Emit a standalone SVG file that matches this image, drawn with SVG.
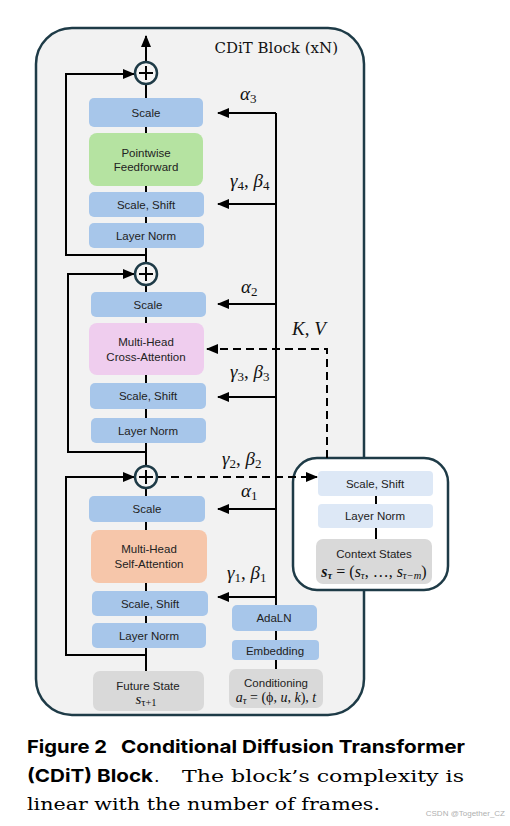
<svg xmlns="http://www.w3.org/2000/svg" width="510" height="826" viewBox="0 0 510 826">
<style>
.frame{fill:#f2f2f2;stroke:#1e3b47;stroke-width:2.5}
.ctx{fill:#ffffff;stroke:#1e3b47;stroke-width:2.5}
.blue{fill:#a7c6ea}
.lblue{fill:#dde8f6}
.green{fill:#b5e3a1}
.pink{fill:#efcdee}
.orange{fill:#f6c6aa}
.gray{fill:#d9d9d9}
.t{font-family:"Liberation Sans",Arial,sans-serif;font-size:11.5px;fill:#222;text-anchor:middle}
.m{font-family:"Liberation Serif","Times New Roman",serif;font-style:italic;font-size:19px;fill:#111}
.s{font-style:normal;font-size:13px}
.fm{font-family:"Liberation Serif","Times New Roman",serif;font-style:italic;font-size:15px;fill:#111;text-anchor:middle}
.up{font-style:normal}
.ss{font-size:10.5px}
.ln{fill:none;stroke:#000;stroke-width:2}
.dash{fill:none;stroke:#000;stroke-width:2;stroke-dasharray:8 5}
.pc{fill:#f5f5f5;stroke:#1e3b47;stroke-width:2.5}
.pl{stroke:#000;stroke-width:2}
.cap{font-family:Inter,"Liberation Sans",sans-serif;font-weight:bold;font-size:18px;fill:#000}
.ser{font-family:"DejaVu Serif",serif;font-size:17.5px;fill:#000}
</style>
<defs>
<marker id="ah" markerUnits="userSpaceOnUse" markerWidth="12" markerHeight="10" refX="11" refY="5" orient="auto">
<path d="M0,0 L12,5 L0,10 Z" fill="#000"/>
</marker>
</defs>

<g id="cdit-block">
<rect class="frame" x="36" y="28" width="328" height="687" rx="36"/>
<text x="338" y="53" text-anchor="end" style="font-family:'DejaVu Serif',serif;font-size:15px;fill:#111">CDiT Block (xN)</text>
</g>

<g id="context-block">
<rect class="ctx" x="293" y="458" width="155" height="132" rx="24"/>
<rect class="lblue" x="318" y="471" width="115" height="25" rx="4"/>
<text class="t" x="375" y="488">Scale, Shift</text>
<rect class="lblue" x="318" y="504" width="115" height="24" rx="4"/>
<text class="t" x="375" y="520">Layer Norm</text>
<rect class="gray" x="316" y="539" width="116" height="45" rx="7"/>
<text class="t" x="374" y="558">Context States</text>
<text class="fm" x="374" y="577" style="font-size:16px"><tspan font-weight="bold">s</tspan><tspan class="ss" font-weight="bold" dy="2">τ</tspan><tspan class="up" dy="-2"> = (</tspan>s<tspan class="ss" dy="2">τ</tspan><tspan class="up" dy="-2">, …, </tspan>s<tspan class="ss" dy="2">τ−m</tspan><tspan class="up" dy="-2">)</tspan></text>
</g>

<g id="ffn-stage">
<rect class="blue" x="89" y="98" width="114" height="29" rx="5"/>
<text class="t" x="146" y="117">Scale</text>
<rect class="green" x="89" y="133" width="114" height="53" rx="8"/>
<text class="t" x="146" y="157">Pointwise</text>
<text class="t" x="146" y="171">Feedforward</text>
<rect class="blue" x="89" y="192" width="115" height="25" rx="5"/>
<text class="t" x="146" y="209">Scale, Shift</text>
<rect class="blue" x="89" y="223" width="115" height="25" rx="5"/>
<text class="t" x="146" y="240">Layer Norm</text>
</g>

<g id="cross-attn-stage">
<rect class="blue" x="91" y="292" width="115" height="25" rx="5"/>
<text class="t" x="148" y="309">Scale</text>
<rect class="pink" x="89" y="323" width="115" height="52" rx="8"/>
<text class="t" x="146" y="346">Multi-Head</text>
<text class="t" x="146" y="361">Cross-Attention</text>
<rect class="blue" x="90" y="383" width="116" height="26" rx="5"/>
<text class="t" x="148" y="400">Scale, Shift</text>
<rect class="blue" x="91" y="418" width="115" height="25" rx="5"/>
<text class="t" x="148" y="435">Layer Norm</text>
</g>

<g id="self-attn-stage">
<rect class="blue" x="89" y="496" width="116" height="26" rx="5"/>
<text class="t" x="147" y="513">Scale</text>
<rect class="orange" x="91" y="530" width="116" height="53" rx="8"/>
<text class="t" x="149" y="553">Multi-Head</text>
<text class="t" x="149" y="568">Self-Attention</text>
<rect class="blue" x="92" y="591" width="116" height="25" rx="5"/>
<text class="t" x="150" y="608">Scale, Shift</text>
<rect class="blue" x="92" y="623" width="114" height="25" rx="5"/>
<text class="t" x="149" y="640">Layer Norm</text>
</g>

<g id="future-state">
<rect class="gray" x="93" y="671" width="111" height="40" rx="7"/>
<text class="t" x="148" y="690">Future State</text>
<text class="fm" x="146" y="704">s<tspan class="ss up" dy="2">τ+1</tspan></text>
</g>

<g id="conditioning">
<rect class="blue" x="232" y="605" width="85" height="26" rx="5"/>
<text class="t" x="274" y="622">AdaLN</text>
<rect class="blue" x="232" y="640" width="87" height="20" rx="4"/>
<text class="t" x="275" y="655">Embedding</text>
<rect class="gray" x="229" y="669" width="94" height="39" rx="7"/>
<text class="t" x="276" y="687">Conditioning</text>
<text class="fm" x="276" y="702" style="font-size:14px">a<tspan class="ss" dy="2">τ</tspan><tspan class="up" dy="-2"> = (ϕ, </tspan>u<tspan class="up">, </tspan>k<tspan class="up">), </tspan>t</text>
</g>

<g id="connectors">
<path class="ln" d="M146,62 V36" marker-end="url(#ah)"/>
<path class="ln" d="M146,84 V98 M146,127 V133 M146,186 V192 M146,217 V223 M146,248 V263 M146,285 V292 M146,317 V323 M146,375 V383 M146,409 V418 M146,443 V466 M146,488 V496 M146,522 V530 M146,583 V591 M146,616 V623 M146,648 V671"/>
<path class="ln" d="M146,255 H66 V74 H134" marker-end="url(#ah)"/>
<path class="ln" d="M146,452 H68 V274 H134" marker-end="url(#ah)"/>
<path class="ln" d="M146,655 H66 V477 H134" marker-end="url(#ah)"/>
<path class="ln" d="M276,605 V113 M276,631 V640 M276,660 V669"/>
<path class="ln" d="M276,113 H218" marker-end="url(#ah)"/>
<path class="ln" d="M276,204 H218" marker-end="url(#ah)"/>
<path class="ln" d="M276,304 H218" marker-end="url(#ah)"/>
<path class="ln" d="M276,397 H218" marker-end="url(#ah)"/>
<path class="ln" d="M276,509 H218" marker-end="url(#ah)"/>
<path class="ln" d="M276,597 H218" marker-end="url(#ah)"/>
<path class="dash" d="M327,458 V349 H207" marker-end="url(#ah)"/>
<path class="dash" d="M158,477 H317" marker-end="url(#ah)"/>
<path class="ln" d="M376,496 V504 M376,528 V539"/>
</g>

<g id="plus-1"><circle class="pc" cx="146" cy="73" r="11"/><path class="pl" d="M139,73 H153 M146,66 V80"/></g>
<g id="plus-2"><circle class="pc" cx="146" cy="274" r="11"/><path class="pl" d="M139,274 H153 M146,267 V281"/></g>
<g id="plus-3"><circle class="pc" cx="146" cy="477" r="11"/><path class="pl" d="M139,477 H153 M146,470 V484"/></g>

<g id="labels">
<text class="m" x="240" y="100">α<tspan class="s" dy="3">3</tspan></text>
<text class="m" x="230" y="187">γ<tspan class="s" dy="3">4</tspan><tspan class="up" dy="-3">, </tspan>β<tspan class="s" dy="3">4</tspan></text>
<text class="m" x="241" y="293">α<tspan class="s" dy="3">2</tspan></text>
<text class="m" x="292" y="335">K<tspan class="up">, </tspan>V</text>
<text class="m" x="230" y="378">γ<tspan class="s" dy="3">3</tspan><tspan class="up" dy="-3">, </tspan>β<tspan class="s" dy="3">3</tspan></text>
<text class="m" x="222" y="465">γ<tspan class="s" dy="3">2</tspan><tspan class="up" dy="-3">, </tspan>β<tspan class="s" dy="3">2</tspan></text>
<text class="m" x="241" y="497">α<tspan class="s" dy="3">1</tspan></text>
<text class="m" x="227" y="579">γ<tspan class="s" dy="3">1</tspan><tspan class="up" dy="-3">, </tspan>β<tspan class="s" dy="3">1</tspan></text>
</g>

<g id="caption">
<text class="cap" x="27" y="753" textLength="80" lengthAdjust="spacingAndGlyphs">Figure 2</text>
<text class="cap" x="121" y="753" textLength="344" lengthAdjust="spacingAndGlyphs">Conditional Diffusion Transformer</text>
<text class="cap" x="27" y="782" textLength="126" lengthAdjust="spacingAndGlyphs">(CDiT) Block</text>
<text class="ser" x="154" y="782">.</text>
<text class="ser" x="182" y="782" textLength="282" lengthAdjust="spacingAndGlyphs">The block’s complexity is</text>
<text class="ser" x="27" y="810" textLength="353" lengthAdjust="spacingAndGlyphs">linear with the number of frames.</text>
<text x="505" y="816" text-anchor="end" style="font-family:'Liberation Sans',sans-serif;font-size:8px;fill:#b0b0b0">CSDN @Together_CZ</text>
</g>
</svg>
